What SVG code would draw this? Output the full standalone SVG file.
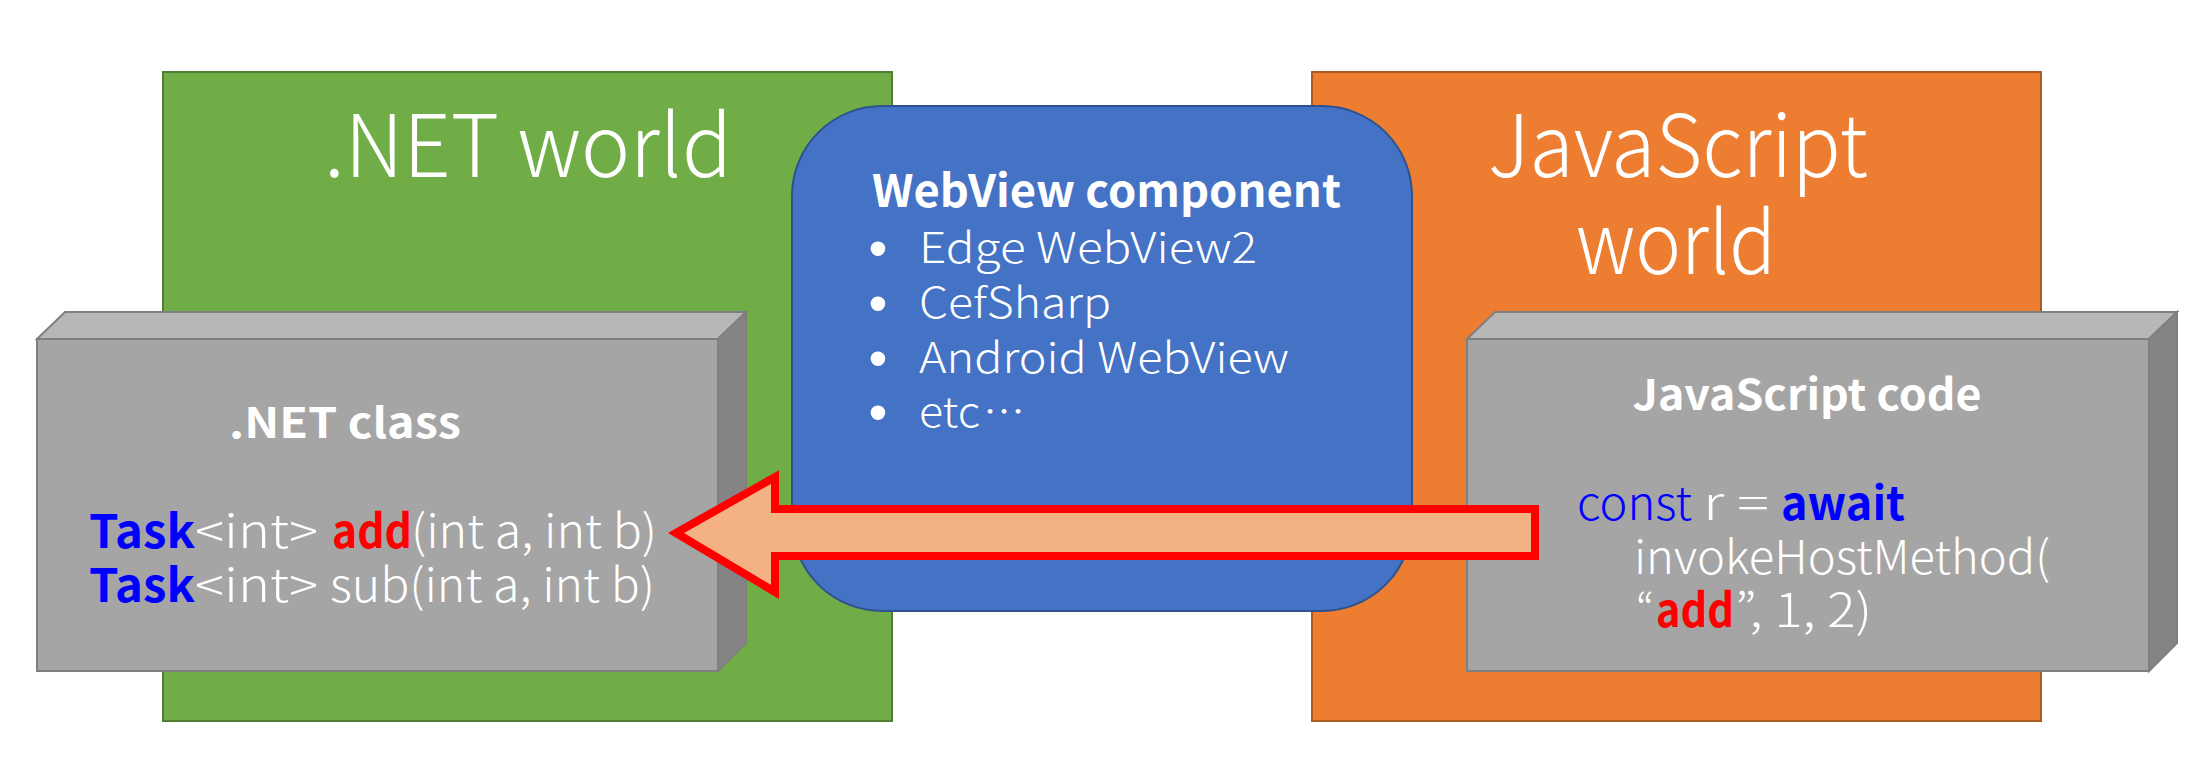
<svg xmlns="http://www.w3.org/2000/svg" width="2207" height="761" viewBox="0 0 2207 761">
<style>
.lt{font-family:"Noto Sans CJK JP","Noto Sans",sans-serif;font-weight:300;fill:#fff}
.bd{font-family:"Noto Sans CJK JP","Noto Sans",sans-serif;font-weight:700;fill:#fff}
.blue{fill:#0000FF}
.red{fill:#FF0000}
.front{fill:#A5A5A5;stroke:#7F7F7F;stroke-width:2}
.top{fill:#B7B7B7;stroke:#7F7F7F;stroke-width:2}
.side{fill:#848484;stroke:#7F7F7F;stroke-width:2}
.bul{font-family:"Liberation Sans",Arial,sans-serif;fill:#fff;font-size:54px}
</style>
<rect width="2207" height="761" fill="#fff"/>
<g id="dotnet-world">
<rect x="163" y="72" width="729" height="649" fill="#70AD47" stroke="#507E32" stroke-width="2"/>
<text class="lt" x="528" y="177" font-size="86" text-anchor="middle" textLength="408" lengthAdjust="spacingAndGlyphs">.NET world</text>
</g>
<g id="js-world">
<rect x="1312" y="72" width="729" height="649" fill="#ED7D31" stroke="#AE5A21" stroke-width="2"/>
<text class="lt" x="1678" y="177" font-size="86" text-anchor="middle" textLength="380" lengthAdjust="spacingAndGlyphs">JavaScript</text>
<text class="lt" x="1676" y="274" font-size="86" text-anchor="middle" textLength="200" lengthAdjust="spacingAndGlyphs">world</text>
</g>
<g id="webview">
<rect x="792" y="106" width="620" height="505" rx="90" ry="90" fill="#4472C4" stroke="#2F528F" stroke-width="2"/>
<text class="bd" x="872" y="207" font-size="45" textLength="469" lengthAdjust="spacingAndGlyphs">WebView component</text>
<text class="bul" x="878" y="267" text-anchor="middle">•</text>
<text class="bul" x="878" y="322" text-anchor="middle">•</text>
<text class="bul" x="878" y="377" text-anchor="middle">•</text>
<text class="bul" x="878" y="431" text-anchor="middle">•</text>
<g class="lt" font-size="42">
<text x="919" y="263" textLength="338" lengthAdjust="spacingAndGlyphs">Edge WebView2</text>
<text x="919" y="318" textLength="192" lengthAdjust="spacingAndGlyphs">CefSharp</text>
<text x="919" y="373" textLength="370" lengthAdjust="spacingAndGlyphs">Android WebView</text>
<text x="919" y="427" textLength="61" lengthAdjust="spacingAndGlyphs">etc</text>
<text x="983" y="427" font-size="42" textLength="42" lengthAdjust="spacingAndGlyphs">…</text>
</g>
</g>
<g id="dotnet-class">
<polygon class="top" points="37,339 65,312 746,312 718,339"/>
<polygon class="side" points="718,339 746,312 746,643 718,671"/>
<rect class="front" x="37" y="339" width="681" height="332"/>
<text class="bd" x="345" y="438" font-size="42" text-anchor="middle" textLength="232" lengthAdjust="spacingAndGlyphs">.NET class</text>
<g font-size="46">
<text class="bd blue" x="89" y="548" textLength="106" lengthAdjust="spacingAndGlyphs">Task</text>
<text class="lt" x="195" y="548" textLength="123" lengthAdjust="spacingAndGlyphs">&lt;int&gt;</text>
<text class="bd red" x="332" y="548" textLength="80" lengthAdjust="spacingAndGlyphs">add</text>
<text class="lt" x="411" y="548" textLength="246" lengthAdjust="spacingAndGlyphs">(int a, int b)</text>
<text class="bd blue" x="89" y="602" textLength="106" lengthAdjust="spacingAndGlyphs">Task</text>
<text class="lt" x="195" y="602" textLength="123" lengthAdjust="spacingAndGlyphs">&lt;int&gt;</text>
<text class="lt" x="330" y="602" textLength="325" lengthAdjust="spacingAndGlyphs">sub(int a, int b)</text>
</g>
</g>
<g id="js-code">
<polygon class="top" points="1467,339 1495,312 2177,312 2149,339"/>
<polygon class="side" points="2149,339 2177,312 2177,643 2149,671"/>
<rect class="front" x="1467" y="339" width="682" height="332"/>
<text class="bd" x="1807" y="410" font-size="42" text-anchor="middle" textLength="349" lengthAdjust="spacingAndGlyphs">JavaScript code</text>
<g font-size="46">
<text class="lt blue" x="1577" y="520" textLength="115" lengthAdjust="spacingAndGlyphs">const</text>
<text class="lt" x="1703" y="520" textLength="66" lengthAdjust="spacingAndGlyphs">r =</text>
<text class="bd blue" x="1781" y="520" textLength="124" lengthAdjust="spacingAndGlyphs">await</text>
<text class="lt" x="1634" y="574" textLength="416" lengthAdjust="spacingAndGlyphs">invokeHostMethod(</text>
<text class="lt" x="1636" y="627" textLength="18" lengthAdjust="spacingAndGlyphs">“</text>
<text class="bd red" x="1656" y="627" textLength="78" lengthAdjust="spacingAndGlyphs">add</text>
<text class="lt" x="1735" y="627" textLength="137" lengthAdjust="spacingAndGlyphs">”, 1, 2)</text>
</g>
</g>
<g id="connectors">
<polygon points="676,533 775,477 775,509 1535,509 1535,556 775,556 775,592" fill="#F4B183" stroke="#FF0000" stroke-width="8" stroke-linejoin="miter"/>
</g>
</svg>
